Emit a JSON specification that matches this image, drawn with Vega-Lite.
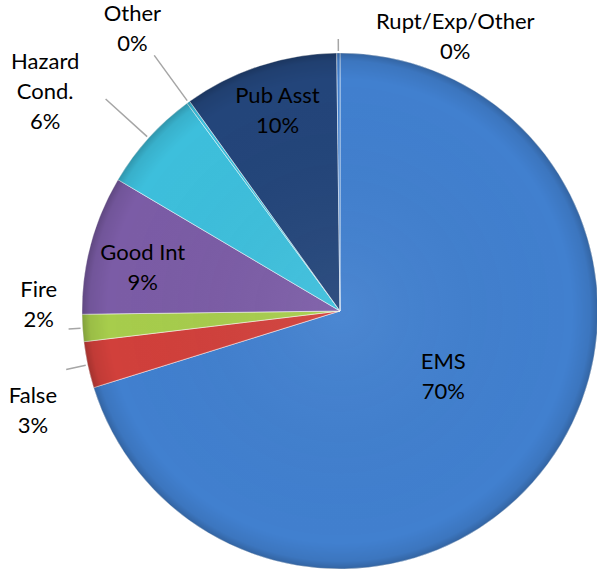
{
  "$schema": "https://vega.github.io/schema/vega-lite/v6.json",
  "width": 516,
  "height": 516,
  "autosize": {"type": "none"},
  "padding": {"left": 82, "top": 53, "right": 0, "bottom": 2},
  "background": "#ffffff",
  "config": {"view": {"stroke": null}},
  "data": {
    "values": [
      {"category": "EMS", "value": 70.2},
      {"category": "False", "value": 2.9},
      {"category": "Fire", "value": 1.7},
      {"category": "Good Int", "value": 8.7},
      {"category": "Hazard Cond.", "value": 6.4},
      {"category": "Other", "value": 0.2},
      {"category": "Pub Asst", "value": 9.7},
      {"category": "Rupt/Exp/Other", "value": 0.2}
    ]
  },
  "transform": [
    {"window": [{"op": "sum", "field": "value", "as": "cum"}], "sort": [{"field": "category", "order": "ascending"}], "frame": [null, 0]},
    {"joinaggregate": [{"op": "sum", "field": "value", "as": "total"}]},
    {"calculate": "datum.cum - datum.value / 2", "as": "mid"},
    {"calculate": "round(100 * datum.value / datum.total) + '%'", "as": "pct"},
    {"calculate": "datum.category + '\\n' + datum.pct", "as": "label"}
  ],
  "layer": [
    {
      "mark": {"type": "arc", "stroke": "#ffffff", "strokeOpacity": 0.5, "strokeWidth": 1},
      "encoding": {
        "theta": {"field": "value", "type": "quantitative", "stack": true},
        "color": {
          "field": "category",
          "type": "nominal",
          "legend": null,
          "scale": {
            "domain": ["EMS", "False", "Fire", "Good Int", "Hazard Cond.", "Other", "Pub Asst", "Rupt/Exp/Other"],
            "range": ["#4180cf", "#d1403b", "#a7cd4c", "#7b5ca6", "#3dbfdc", "#3dbfdc", "#23457a", "#4180cf"]
          }
        }
      }
    },
    {
      "transform": [{"aggregate": [{"op": "sum", "field": "value", "as": "t"}]}],
      "mark": {
        "type": "arc",
        "fill": {
          "gradient": "radial",
          "x1": 0.5, "y1": 0.5, "x2": 0.5, "y2": 0.5, "r1": 0, "r2": 0.5,
          "stops": [
            {"offset": 0, "color": "rgba(255,255,255,0.06)"},
            {"offset": 0.9, "color": "rgba(0,0,0,0)"},
            {"offset": 0.97, "color": "rgba(0,0,0,0.08)"},
            {"offset": 1, "color": "rgba(0,0,0,0.22)"}
          ]
        }
      },
      "encoding": {}
    },
    {
      "transform": [{"filter": "datum.category === 'Hazard Cond.' || datum.category === 'Other'"}],
      "mark": {"type": "arc", "radius": 316, "radius2": 260, "stroke": "#a6a6a6", "strokeWidth": 1.5, "fill": null},
      "encoding": {
        "theta": {"field": "mid", "type": "quantitative", "stack": false},
        "theta2": {"field": "mid"}
      }
    },
    {
      "transform": [{"filter": "datum.category === 'Fire' || datum.category === 'Rupt/Exp/Other'"}],
      "mark": {"type": "arc", "radius": 272, "radius2": 260, "stroke": "#a6a6a6", "strokeWidth": 1.5, "fill": null},
      "encoding": {
        "theta": {"field": "mid", "type": "quantitative", "stack": false},
        "theta2": {"field": "mid"}
      }
    },
    {
      "transform": [{"filter": "datum.category === 'False'"}],
      "mark": {"type": "arc", "radius": 280, "radius2": 260, "stroke": "#a6a6a6", "strokeWidth": 1.5, "fill": null},
      "encoding": {
        "theta": {"field": "mid", "type": "quantitative", "stack": false},
        "theta2": {"field": "mid"}
      }
    },
    {
      "transform": [{"filter": "datum.category === 'EMS'"}],
      "mark": {"type": "text", "radius": 122, "dx": 5, "dy": -21, "lineBreak": "\n", "font": "Lato", "fontSize": 22, "lineHeight": 30, "align": "center", "baseline": "middle", "color": "#000000"},
      "encoding": {"theta": {"field": "mid", "type": "quantitative", "stack": false}, "text": {"field": "label"}}
    },
    {
      "transform": [{"filter": "datum.category === 'Good Int'"}],
      "mark": {"type": "text", "radius": 200, "dx": -4, "dy": -6, "lineBreak": "\n", "font": "Lato", "fontSize": 22, "lineHeight": 30, "align": "center", "baseline": "middle", "color": "#000000"},
      "encoding": {"theta": {"field": "mid", "type": "quantitative", "stack": false}, "text": {"field": "label"}}
    },
    {
      "transform": [{"filter": "datum.category === 'Pub Asst'"}],
      "mark": {"type": "text", "radius": 210, "dx": 3, "dy": -15, "lineBreak": "\n", "font": "Lato", "fontSize": 22, "lineHeight": 30, "align": "center", "baseline": "middle", "color": "#000000"},
      "encoding": {"theta": {"field": "mid", "type": "quantitative", "stack": false}, "text": {"field": "label"}}
    },
    {
      "transform": [{"filter": "datum.category === 'Rupt/Exp/Other'"}],
      "mark": {"type": "text", "radius": 274, "dx": 117, "dy": -15, "lineBreak": "\n", "font": "Lato", "fontSize": 22, "lineHeight": 30, "align": "center", "baseline": "middle", "color": "#000000"},
      "encoding": {"theta": {"field": "mid", "type": "quantitative", "stack": false}, "text": {"field": "label"}}
    },
    {
      "transform": [{"filter": "datum.category === 'Other'"}],
      "mark": {"type": "text", "radius": 348, "dx": -3, "dy": -15, "lineBreak": "\n", "font": "Lato", "fontSize": 22, "lineHeight": 30, "align": "center", "baseline": "middle", "color": "#000000"},
      "encoding": {"theta": {"field": "mid", "type": "quantitative", "stack": false}, "text": {"field": "label"}}
    },
    {
      "transform": [
        {"filter": "datum.category === 'Hazard Cond.'"},
        {"calculate": "replace(datum.label, ' ', '\\n')", "as": "label3"}
      ],
      "mark": {"type": "text", "radius": 326, "dx": -53, "dy": -30, "lineBreak": "\n", "font": "Lato", "fontSize": 22, "lineHeight": 30, "align": "center", "baseline": "middle", "color": "#000000"},
      "encoding": {"theta": {"field": "mid", "type": "quantitative", "stack": false}, "text": {"field": "label3"}}
    },
    {
      "transform": [{"filter": "datum.category === 'Fire'"}],
      "mark": {"type": "text", "radius": 302, "dx": 0, "dy": -41, "lineBreak": "\n", "font": "Lato", "fontSize": 22, "lineHeight": 30, "align": "center", "baseline": "middle", "color": "#000000"},
      "encoding": {"theta": {"field": "mid", "type": "quantitative", "stack": false}, "text": {"field": "label"}}
    },
    {
      "transform": [{"filter": "datum.category === 'False'"}],
      "mark": {"type": "text", "radius": 314, "dx": 0, "dy": 19, "lineBreak": "\n", "font": "Lato", "fontSize": 22, "lineHeight": 30, "align": "center", "baseline": "middle", "color": "#000000"},
      "encoding": {"theta": {"field": "mid", "type": "quantitative", "stack": false}, "text": {"field": "label"}}
    }
  ]
}
